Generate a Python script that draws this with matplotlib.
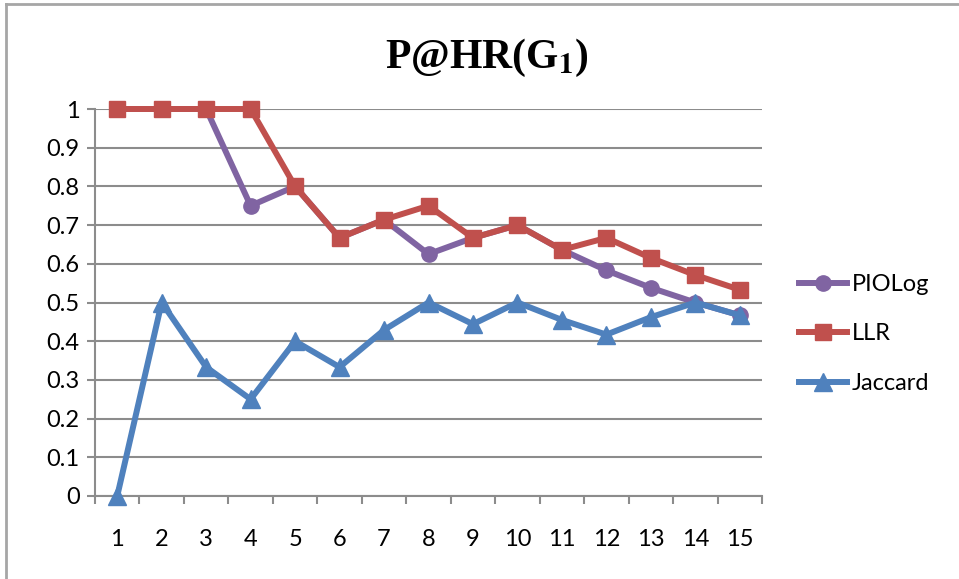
import matplotlib
matplotlib.use("Agg")
import matplotlib.pyplot as plt
from matplotlib.lines import Line2D

x = list(range(1, 16))
piolog = [1, 1, 1, 0.75, 0.8, 0.667, 0.714, 0.625, 0.667, 0.7, 0.636, 0.583, 0.538, 0.5, 0.467]
llr = [1, 1, 1, 1, 0.8, 0.667, 0.714, 0.75, 0.667, 0.7, 0.636, 0.667, 0.615, 0.571, 0.533]
jaccard = [0, 0.5, 0.333, 0.25, 0.4, 0.333, 0.429, 0.5, 0.444, 0.5, 0.455, 0.417, 0.462, 0.5, 0.467]
yticks = [0, 0.1, 0.2, 0.3, 0.4, 0.5, 0.6, 0.7, 0.8, 0.9, 1]
ytick_labels = ["0", "0.1", "0.2", "0.3", "0.4", "0.5", "0.6", "0.7", "0.8", "0.9", "1"]

plt.rcParams['font.family'] = ['Lato', 'DejaVu Sans']

fig = plt.figure(figsize=(9.59, 5.79), dpi=100)
ax = fig.add_axes([95/959, 1-496/579, (762-95)/959, (496-109)/579])

grid_c = '#8c8c8c'
lw = 4.3
ax.plot(x, piolog, color='#8064A2', lw=lw, marker='o', ms=11, label='PIOLog', clip_on=False, zorder=3)
ax.plot(x, llr, color='#C0504D', lw=lw, marker='s', ms=11.5, label='LLR', clip_on=False, zorder=4)
ax.plot(x, jaccard, color='#4F81BD', lw=lw, marker='^', ms=12.5, label='Jaccard', clip_on=False, zorder=5)

ax.set_xlim(0.5, 15.5)
ax.set_ylim(0, 1)
ax.set_yticks(yticks)
ax.set_yticklabels(ytick_labels)
ax.set_xticks(x)
ax.set_xticks([i + 0.5 for i in range(0, 16)], minor=True)
ax.tick_params(axis='x', which='major', length=0, pad=24, labelsize=17)
ax.tick_params(axis='x', which='minor', length=6, width=1.5, color=grid_c, direction='out')
ax.tick_params(axis='y', which='major', length=6, width=1.5, color=grid_c, direction='out', pad=5, labelsize=17)
ax.yaxis.grid(True, color=grid_c, lw=1.5)
ax.set_axisbelow(True)
for s in ['top', 'right']:
    ax.spines[s].set_visible(False)
for s in ['left', 'bottom']:
    ax.spines[s].set_color(grid_c)
    ax.spines[s].set_linewidth(1.5)

fig.text(487/959, 1-58/579, r'P@HR(G$_\mathbf{1}$)', ha='center', va='center',
         fontsize=30, fontweight='bold', family='Liberation Serif',
         math_fontfamily='stix')

leg = fig.legend(loc='center left', bbox_to_anchor=(799/959, 1-334/579), frameon=False,
                 fontsize=17, handlelength=2.05, labelspacing=1.2, handletextpad=0.2,
                 borderaxespad=0, borderpad=0)

fig.add_artist(Line2D([6/959, 6/959], [0, 1-4/579], color='#a6a6a6', lw=2))
fig.add_artist(Line2D([6/959, 1], [1-4/579, 1-4/579], color='#a6a6a6', lw=2))

fig.savefig('out.png', dpi=100)
